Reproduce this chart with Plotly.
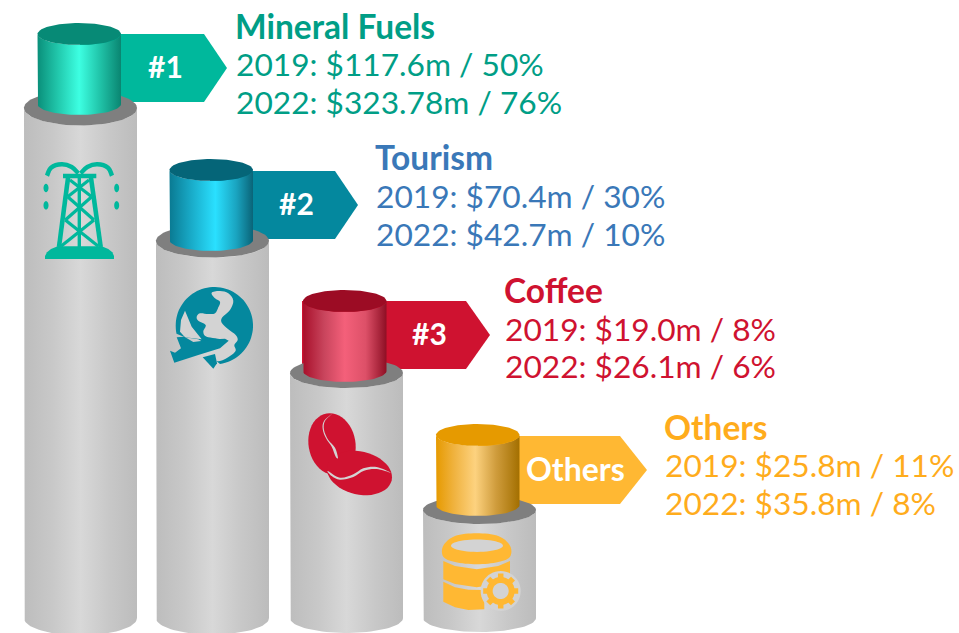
import numpy as np
import plotly.graph_objects as go

# ---------- data ----------
CATEGORIES = ["Mineral Fuels", "Tourism", "Coffee", "Others"]
BADGES = ["#1", "#2", "#3", "Others"]
VALUES_2019 = ["$117.6m", "$70.4m", "$19.0m", "$25.8m"]
SHARES_2019 = ["50%", "30%", "8%", "11%"]
VALUES_2022 = ["$323.78m", "$42.7m", "$26.1m", "$35.8m"]
SHARES_2022 = ["76%", "10%", "6%", "8%"]
TOWER_HEIGHTS = [510, 377, 245, 108]

# ---------- layout and style ----------
W, H = 959, 633
BASE = 618
TOWER_LEFT = [24, 156, 290, 423]
TOWER_W = 113
TOWER_RY = [17.5, 16.5, 15, 14]
DRUM_LEFT = [37.5, 169.5, 303, 436]
DRUM_W = 83.5
DRUM_TOP = [34, 170, 301, 435]
DRUM_H = 70
DRUM_RY = [11, 11, 11, 11]
ARROW_X0 = [80, 210, 302, 478]
ARROW_SHOULDER = [204, 335, 466, 620]
ARROW_TIP = [227, 358, 490, 647]
ARROW_TOP = [34, 171, 301, 436]
ARROW_H = 68
BADGE_X = [165, 296, 429, 575]
TEXT_X = [236, 376, 505, 665]
TITLE_Y = [27, 158, 291, 428]
LINE1_Y = [65, 197, 330, 466]
LINE2_Y = [103, 235, 367, 504]
ARROW_COL = ["#00b89c", "#04889e", "#cf1230", "#ffb833"]
TEXT_COL = ["#009e86", "#3a78b8", "#cf1230", "#ffac1c"]
DRUM_CAP = ["#078a76", "#056578", "#9c0c24", "#e69a00"]
DRUM_GRAD = [
    [[0, "#0a8f7a"], [0.25, "#22c9ad"], [0.5, "#3dffe2"], [0.75, "#20c3a8"], [1, "#0a8571"]],
    [[0, "#0a7a92"], [0.25, "#18a9c6"], [0.55, "#2ae0ff"], [0.8, "#1aa4c0"], [1, "#0a6478"]],
    [[0, "#a80f2a"], [0.25, "#c8445c"], [0.5, "#f4607a"], [0.75, "#dd5068"], [1, "#8e0f24"]],
    [[0, "#e69a00"], [0.22, "#f0b340"], [0.47, "#fdd27f"], [0.72, "#cf9c3c"], [1, "#a36f00"]],
]
GRAY_GRAD = [[0, "#bdbdbd"], [0.25, "#c8c8c8"], [0.5, "#d8d8d8"], [0.75, "#c8c8c8"], [1, "#bcbcbc"]]
FONT = "Lato"


def cylinder_body(x0, w, ytop, ybot, ry, n=40):
    a = w / 2
    c = x0 + a
    t = np.linspace(np.pi, 0, n)
    xs = np.concatenate([[x0], c + a * np.cos(t), [x0 + w], c + a * np.cos(t[::-1])])
    ys = np.concatenate([[ytop], ybot + ry * np.sin(t), [ytop], ytop + ry * np.sin(t[::-1])])
    return xs, ys


def ell_path(cx, cy, a, b, rot=0, n=48):
    t = np.linspace(0, 2 * np.pi, n, endpoint=False)
    r = np.deg2rad(rot)
    xs = cx + a * np.cos(t) * np.cos(r) - b * np.sin(t) * np.sin(r)
    ys = cy + a * np.cos(t) * np.sin(r) + b * np.sin(t) * np.cos(r)
    return "M" + " L".join(f"{x:.1f},{y:.1f}" for x, y in zip(xs, ys)) + " Z"


def smooth(pts, ox, oy, closed=True):
    """Catmull-Rom outline through icon-local points (3x scale) as an SVG path."""
    p = [(ox + x / 3, oy + y / 3) for x, y in pts]
    n = len(p)
    d = f"M{p[0][0]:.1f},{p[0][1]:.1f}"
    last = n if closed else n - 1
    for i in range(last):
        if closed:
            a, b, c, e = p[(i - 1) % n], p[i], p[(i + 1) % n], p[(i + 2) % n]
        else:
            a, b, c, e = p[max(i - 1, 0)], p[i], p[i + 1], p[min(i + 2, n - 1)]
        c1 = (b[0] + (c[0] - a[0]) / 6, b[1] + (c[1] - a[1]) / 6)
        c2 = (c[0] - (e[0] - b[0]) / 6, c[1] - (e[1] - b[1]) / 6)
        d += f" C{c1[0]:.1f},{c1[1]:.1f} {c2[0]:.1f},{c2[1]:.1f} {c[0]:.1f},{c[1]:.1f}"
    return d + (" Z" if closed else "")


def straight(pts, ox, oy, closed=True):
    d = "M" + " L".join(f"{ox + x / 3:.1f},{oy + y / 3:.1f}" for x, y in pts)
    return d + (" Z" if closed else "")


fig = go.Figure()


def poly(xs, ys, color=None, grad=None):
    kw = dict(x=xs, y=ys, mode="lines", line=dict(width=0), fill="toself",
              hoverinfo="skip", showlegend=False)
    if grad:
        kw["fillgradient"] = dict(type="horizontal", colorscale=grad)
    else:
        kw["fillcolor"] = color
    fig.add_trace(go.Scatter(**kw))


for i in range(4):
    t, b = ARROW_TOP[i], ARROW_TOP[i] + ARROW_H
    poly([ARROW_X0[i], ARROW_SHOULDER[i], ARROW_TIP[i], ARROW_SHOULDER[i], ARROW_X0[i], ARROW_X0[i]],
         [t, t, (t + b) / 2, b, b, t], ARROW_COL[i])
    top = BASE - TOWER_HEIGHTS[i]
    xs, ys = cylinder_body(TOWER_LEFT[i], TOWER_W, top, BASE, TOWER_RY[i])
    poly(xs, ys, grad=GRAY_GRAD)
    t_ = np.linspace(0, 2 * np.pi, 80)
    cx = TOWER_LEFT[i] + TOWER_W / 2
    poly(cx + TOWER_W / 2 * np.cos(t_), top + TOWER_RY[i] * np.sin(t_), "#7f7f7f")
    xs, ys = cylinder_body(DRUM_LEFT[i], DRUM_W, DRUM_TOP[i], DRUM_TOP[i] + DRUM_H, DRUM_RY[i])
    poly(xs, ys, grad=DRUM_GRAD[i])
    cx = DRUM_LEFT[i] + DRUM_W / 2
    poly(cx + DRUM_W / 2 * np.cos(t_), DRUM_TOP[i] + DRUM_RY[i] * np.sin(t_), DRUM_CAP[i])

    fig.add_annotation(x=BADGE_X[i], y=ARROW_TOP[i] + ARROW_H / 2 - 2, text=f"<b>{BADGES[i]}</b>",
                       showarrow=False, font=dict(family=FONT, size=32 if i == 3 else 30, color="white"))
    fig.add_annotation(x=TEXT_X[i], y=TITLE_Y[i] - 1, text=f"<b>{CATEGORIES[i]}</b>", xanchor="left",
                       showarrow=False, xshift=-3, font=dict(family=FONT, size=33.5, color=TEXT_COL[i]))
    fig.add_annotation(x=TEXT_X[i], y=LINE1_Y[i] - 1, text=f"2019: {VALUES_2019[i]} / {SHARES_2019[i]}", xanchor="left",
                       showarrow=False, xshift=-2, font=dict(family=FONT, size=31.7, color=TEXT_COL[i]))
    fig.add_annotation(x=TEXT_X[i], y=LINE2_Y[i] - 1, text=f"2022: {VALUES_2022[i]} / {SHARES_2022[i]}", xanchor="left",
                       showarrow=False, xshift=-2, font=dict(family=FONT, size=31.7, color=TEXT_COL[i]))

shapes = []


def path(d, fill=None, lw=0, lc=None):
    s = dict(type="path", path=d, xref="x", yref="y", layer="above")
    s["fillcolor"] = fill if fill else "rgba(0,0,0,0)"
    s["line"] = dict(width=lw, color=lc if lc else "rgba(0,0,0,0)")
    shapes.append(s)


G = "#d3d3d3"

# derrick icon (local 3x coordinates, origin 35,155)
C, ox, oy = ARROW_COL[0], 35, 155
path(straight([(30, 312), (30, 303), (36, 292), (48, 282), (68, 274), (200, 274), (220, 282), (232, 292),
               (237, 303), (237, 312)], ox, oy), C)
for seg, lw in [([(72, 276), (100, 62)], 4.6), ([(197, 276), (167, 62)], 4.6), ([(133, 62), (133, 276)], 3.4),
                ([(84, 63), (184, 63)], 4.4), ([(78, 274), (177, 195)], 3.2), ([(190, 274), (91, 195)], 3.2),
                ([(91, 195), (170, 125)], 3.2), ([(177, 195), (98, 125)], 3.2),
                ([(98, 125), (162, 75)], 3.2), ([(170, 125), (105, 75)], 3.2)]:
    path(straight(seg, ox, oy, closed=False), lw=lw, lc=C)
path(smooth([(36, 62), (48, 38), (80, 28), (110, 36), (130, 55)], ox, oy, closed=False), lw=4.5, lc=C)
path(smooth([(231, 62), (219, 38), (187, 28), (157, 36), (137, 55)], ox, oy, closed=False), lw=4.5, lc=C)
for x in (33, 245):
    path(ell_path(ox + x / 3, oy + 99 / 3, 2.5, 4.2), C)
    path(ell_path(ox + x / 3, oy + 151 / 3, 2.5, 4.2), C)

# globe + plane icon (origin 165,280): an open disc, with land cut out of it
C, ox, oy = ARROW_COL[1], 165, 280
arc = [(148 + 116 * np.cos(a), 137 + 116 * np.sin(a)) for a in np.deg2rad(np.linspace(168, 441.6, 70))]
path(straight(arc + [(150, 240), (120, 190), (100, 178), (60, 172)], ox, oy), C)
path(smooth([(140, 38), (165, 33), (190, 40), (205, 62), (195, 90), (172, 112), (170, 128), (190, 148),
             (212, 165), (218, 180), (208, 195), (212, 212), (195, 228), (165, 243), (140, 238), (125, 200),
             (170, 180), (125, 170), (115, 155), (122, 135), (100, 122), (95, 110), (105, 100), (130, 102),
             (150, 100), (160, 82), (165, 65), (150, 55)], ox, oy), G)
path(straight([(60, 92), (48, 120), (45, 155), (60, 172), (110, 178), (80, 140)], ox, oy), G)
# plane
path(straight([(35, 172), (58, 170), (85, 186), (150, 178), (180, 176), (191, 182), (165, 205), (100, 225),
               (28, 248), (15, 212), (30, 218), (48, 205)], ox, oy), C)
path(straight([(113, 232), (150, 222), (156, 250), (145, 266)], ox, oy), C)

# coffee icon (origin 300,405)
C, ox, oy = ARROW_COL[2], 300, 405
path(ell_path(332, 444, 23.5, 31, -10), C)
path(ell_path(359.5, 473, 33, 21.5, 13), C)
path(smooth([(97, 26), (75, 48), (72, 75), (85, 105), (105, 128), (114, 158), (107, 155), (95, 125), (78, 100),
             (68, 72), (72, 48)], ox, oy), G)
path(smooth([(83, 198), (120, 218), (160, 208), (190, 190), (230, 186), (272, 203), (230, 192), (192, 197),
             (160, 216), (120, 224), (95, 213)], ox, oy), G)

# database icon (origin 435,530)
C, ox, oy = ARROW_COL[3], 435, 530
path(smooth([(25, 47), (60, 18), (125, 10), (190, 18), (225, 47), (225, 80), (190, 96), (125, 103), (60, 96), (25, 80)], ox, oy), C)
path(ell_path(ox + 126 / 3, oy + 47 / 3, 26, 6.2), G)
path(straight([(25, 93), (60, 108), (125, 118), (190, 108), (225, 93), (225, 145), (190, 162), (125, 172), (60, 162), (25, 148)], ox, oy), C)
path(straight([(25, 155), (60, 172), (100, 179), (148, 180), (148, 238), (100, 240), (60, 232), (25, 215)], ox, oy), C)
gx, gy = ox + 197 / 3, oy + 183 / 3
path(ell_path(gx, gy, 20, 20), G)
path(ell_path(gx, gy, 14, 14), C)
path(ell_path(gx, gy, 8, 8), G)
for k in range(8):
    a = k * np.pi / 4
    path(f"M{gx + 12 * np.cos(a):.1f},{gy + 12 * np.sin(a):.1f} L{gx + 17.5 * np.cos(a):.1f},{gy + 17.5 * np.sin(a):.1f}",
         lw=5.5, lc=C)

fig.update_layout(
    width=W, height=H, margin=dict(l=0, r=0, t=0, b=0),
    paper_bgcolor="white", plot_bgcolor="white", shapes=shapes,
    xaxis=dict(range=[0, W], visible=False, fixedrange=True),
    yaxis=dict(range=[H, 0], visible=False, fixedrange=True),
    hovermode=False,
)
fig.write_html("out.html", config={"displayModeBar": False},
               post_script="document.body.style.margin='0';")
